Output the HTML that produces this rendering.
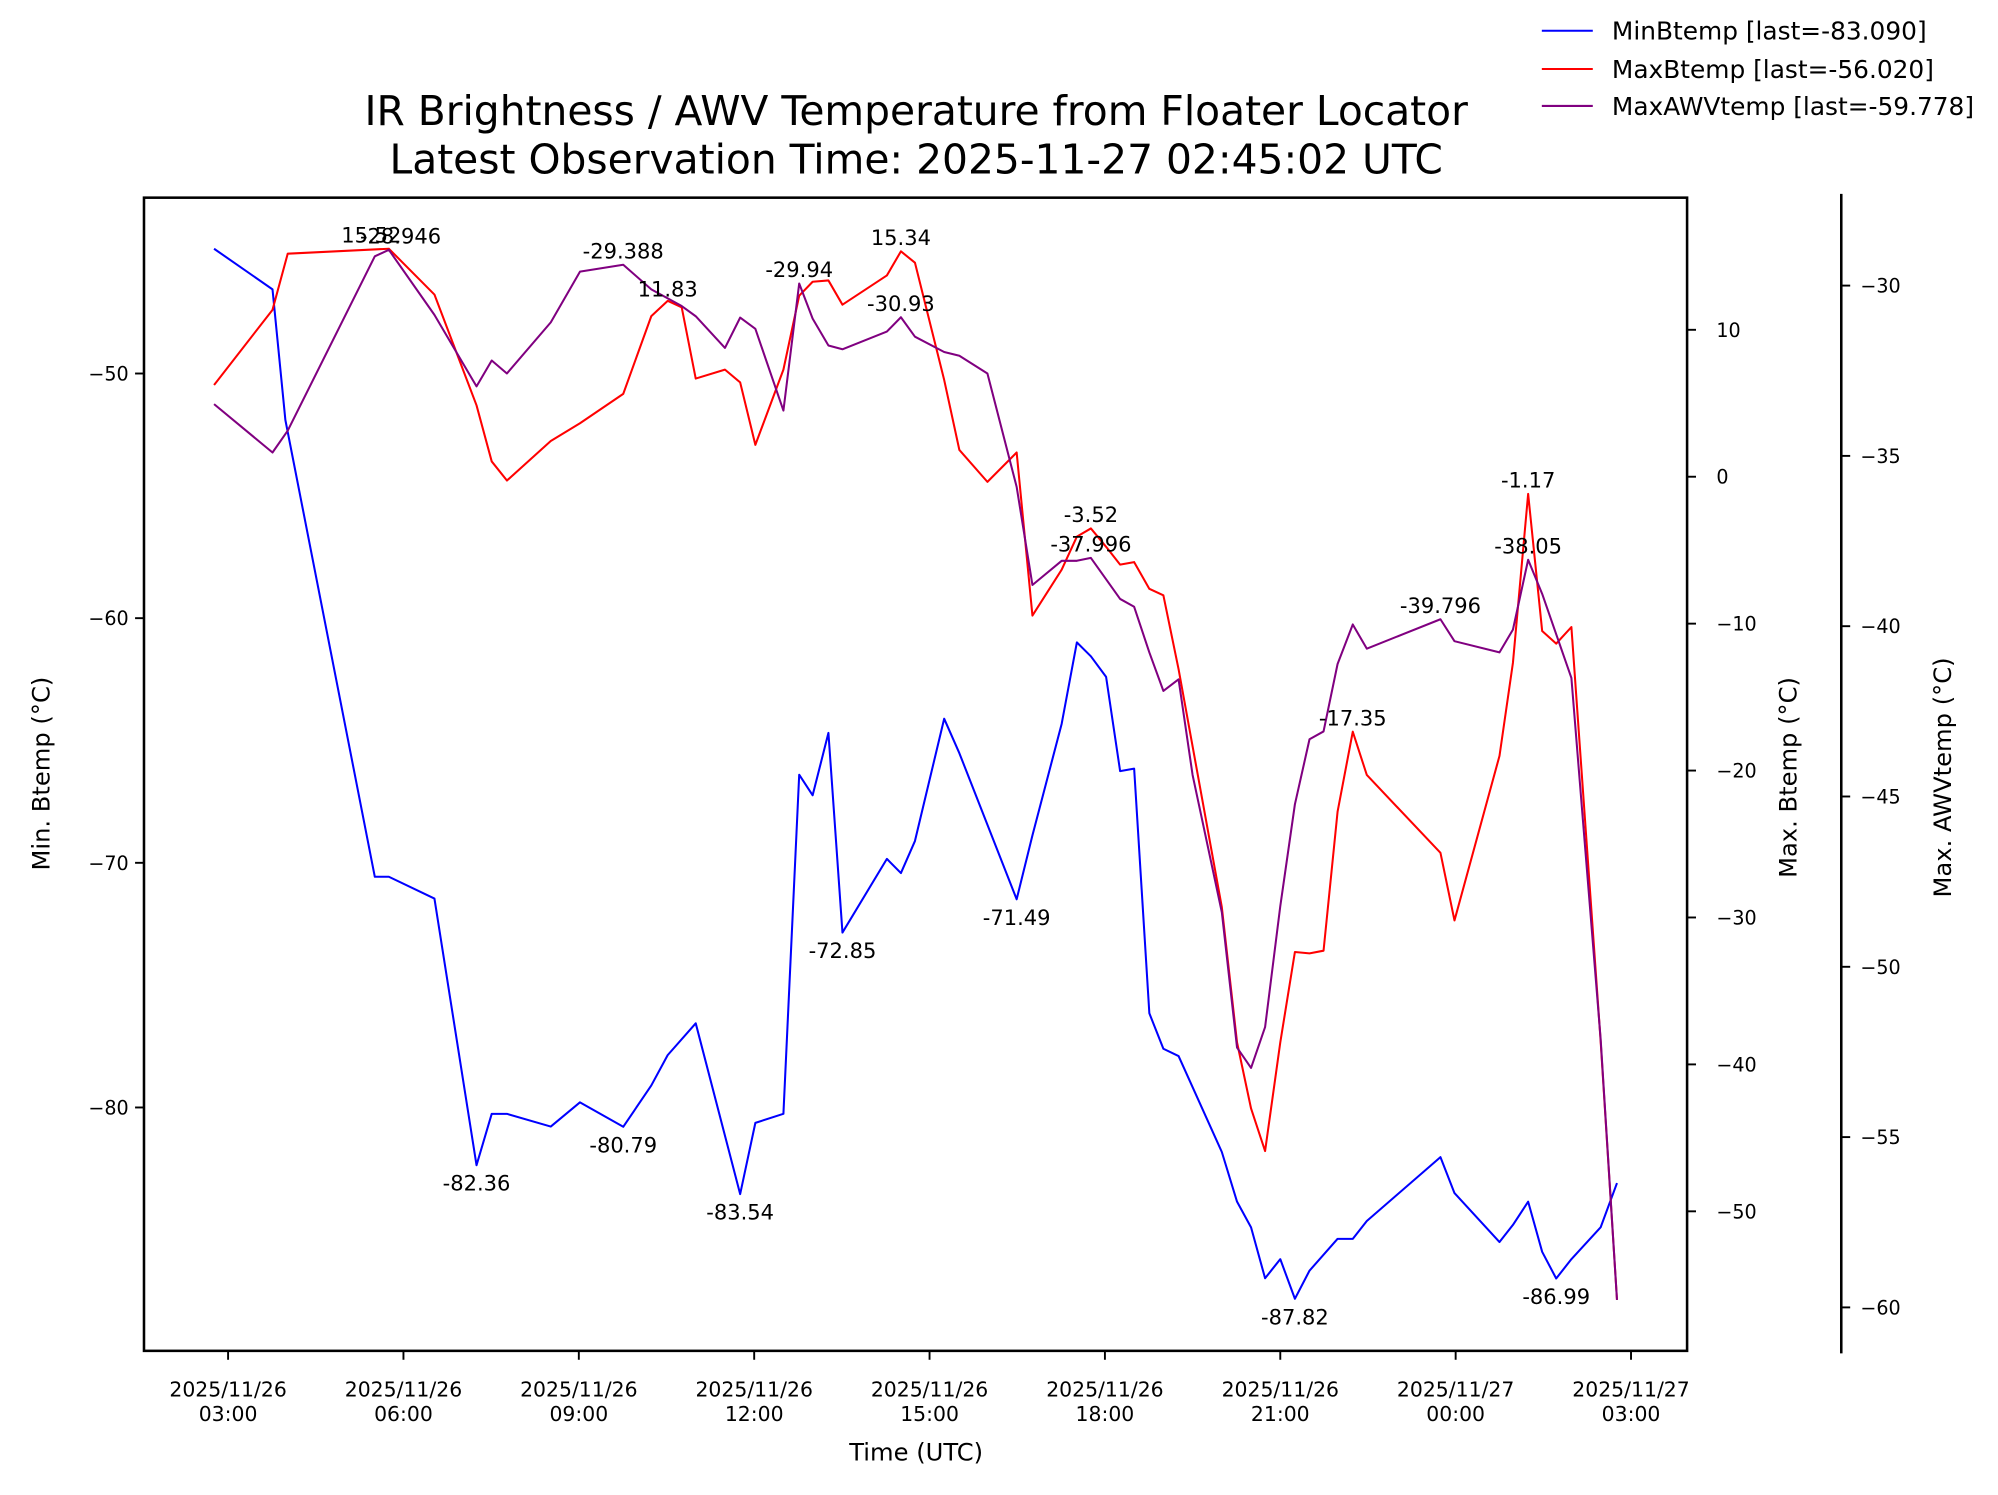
<!DOCTYPE html>
<html><head><meta charset="utf-8"><style>body{margin:0;background:#fff}svg{display:block}text{font-family:"DejaVu Sans","Liberation Sans",sans-serif}</style></head>
<body>
<svg id="c" width="1998" height="1495" viewBox="0 0 1568 1173" xmlns="http://www.w3.org/2000/svg"></svg>
<script>
const minHours=[2.76,3.76,3.98,5.51,5.75,6.53,7.25,7.51,7.77,8.52,9.02,9.76,10.24,10.52,11.0,11.76,12.02,12.5,12.77,13.0,13.27,13.51,14.27,14.51,14.75,15.25,15.51,16.49,16.76,17.26,17.52,17.76,18.02,18.26,18.5,18.76,19.0,19.26,20.0,20.26,20.5,20.74,21.0,21.25,21.5,21.98,22.24,22.48,23.74,23.98,24.75,24.98,25.24,25.48,25.72,25.98,26.48,26.76];
const minVals=[-44.9,-46.56,-51.9,-70.57,-70.57,-71.46,-82.36,-80.26,-80.26,-80.78,-79.79,-80.79,-79.1,-77.86,-76.56,-83.54,-80.63,-80.26,-66.4,-67.24,-64.69,-72.85,-69.84,-70.42,-69.11,-64.11,-65.52,-71.49,-68.88,-64.32,-60.99,-61.56,-62.4,-66.25,-66.15,-76.15,-77.6,-77.9,-81.82,-83.85,-84.9,-86.98,-86.2,-87.82,-86.67,-85.37,-85.37,-84.64,-82.03,-83.5,-85.5,-84.8,-83.85,-85.9,-86.99,-86.2,-84.9,-83.09];
const maxHours=[2.76,3.76,4.02,5.75,6.53,7.25,7.51,7.77,8.52,9.02,9.76,10.24,10.52,10.76,11.0,11.5,11.76,12.02,12.5,12.77,13.0,13.27,13.51,14.27,14.51,14.75,15.25,15.51,15.99,16.49,16.76,17.26,17.52,17.76,18.02,18.26,18.5,18.76,19.0,19.26,20.0,20.26,20.5,20.74,21.0,21.25,21.5,21.74,21.98,22.24,22.48,23.74,23.98,24.75,24.98,25.24,25.48,25.72,25.98,26.48,26.76];
const maxVals=[6.24,11.36,15.18,15.52,12.4,4.86,1.04,-0.26,2.43,3.64,5.64,10.93,11.97,11.53,6.68,7.29,6.42,2.17,7.29,12.32,13.27,13.36,11.71,13.7,15.34,14.57,6.59,1.82,-0.35,1.65,-9.45,-6.33,-4.08,-3.52,-4.77,-5.98,-5.81,-7.63,-8.07,-13.1,-29.3,-38.5,-43.0,-45.9,-38.5,-32.35,-32.44,-32.26,-22.8,-17.35,-20.3,-25.6,-30.2,-19.0,-12.66,-1.17,-10.5,-11.36,-10.23,-38.4,-56.02];
const awvHours=[2.76,3.76,4.02,5.51,5.75,6.53,7.25,7.51,7.77,8.52,9.02,9.76,10.24,10.76,11.0,11.5,11.76,12.02,12.5,12.77,13.0,13.27,13.51,14.27,14.51,14.75,15.25,15.51,15.99,16.49,16.76,17.26,17.52,17.76,18.26,18.5,18.76,19.0,19.26,19.5,20.0,20.26,20.5,20.74,21.0,21.25,21.5,21.74,21.98,22.24,22.48,23.74,23.98,24.75,24.98,25.24,25.48,25.98,26.48,26.76];
const awvVals=[-33.48,-34.9,-34.26,-29.14,-28.95,-30.86,-32.96,-32.2,-32.58,-31.08,-29.59,-29.388,-30.11,-30.6,-30.9,-31.83,-30.94,-31.27,-33.67,-29.94,-30.97,-31.76,-31.87,-31.35,-30.93,-31.5,-31.95,-32.06,-32.58,-35.91,-38.79,-38.08,-38.08,-37.996,-39.2,-39.43,-40.77,-41.9,-41.56,-44.37,-48.4,-52.37,-52.97,-51.77,-48.22,-45.23,-43.32,-43.09,-41.11,-39.95,-40.66,-39.796,-40.44,-40.77,-40.1,-38.05,-39.05,-41.52,-52.11,-59.78];
const minTicks=[-50,-60,-70,-80];
const maxTicks=[10,0,-10,-20,-30,-40,-50];
const awvTicks=[-30,-35,-40,-45,-50,-55,-60];
const timeTicks=[3,6,9,12,15,18,21,24,27];
const timeLabels=[["2025/11/26","03:00"],["2025/11/26","06:00"],["2025/11/26","09:00"],["2025/11/26","12:00"],["2025/11/26","15:00"],["2025/11/26","18:00"],["2025/11/26","21:00"],["2025/11/27","00:00"],["2025/11/27","03:00"]];
const minAnnH=[7.25,9.76,11.76,13.51,16.49,21.25,25.72];
const minAnnV=[-82.36,-80.79,-83.54,-72.85,-71.49,-87.82,-86.99];
const maxAnnH=[5.45,10.52,14.51,17.76,22.24,25.24];
const maxAnnV=[15.52,11.83,15.34,-3.52,-17.35,-1.17];
const awvAnnH=[5.95,9.76,12.77,14.51,17.76,23.74,25.24];
const awvAnnV=[-28.946,-29.388,-29.94,-30.93,-37.996,-39.796,-38.05];

const X=h=>179+(h-3)*45.875;
const Ymin=v=>293+(-50-v)*19.2;
const Ymax=v=>374-v*11.53;
const Yawv=v=>224+(-30-v)*26.73;
const svg=document.getElementById('c');
const NS='http://www.w3.org/2000/svg';
function mk(tag,attrs,parent){const e=document.createElementNS(NS,tag);for(const k in attrs)e.setAttribute(k,attrs[k]);(parent||svg).appendChild(e);return e;}
function txt(s,x,y,size,anchor,parent){const t=mk('text',{x:x,y:y,'font-size':size,'text-anchor':anchor||'middle',fill:'#000'},parent);t.textContent=s;return t;}

let t1=txt('IR Brightness / AWV Temperature from Floater Locator',719,98,32);


let t2=txt('Latest Observation Time: 2025-11-27 02:45:02 UTC',719,136,32);



function series(hs,vs,yf,color,name){
  const p=mk('polyline',{points:hs.map((h,i)=>X(h)+','+yf(vs[i])).join(' '),fill:'none',stroke:color,'stroke-width':1.6,'stroke-linejoin':'round'});
  
  
}
series(minHours,minVals,Ymin,'#0000ff','min-btemp-line');
series(maxHours,maxVals,Ymax,'#ff0000','max-btemp-line');
series(awvHours,awvVals,Yawv,'#800080','max-awvtemp-line');

function ann(hs,vs,yf,below,fmt,name){
  hs.forEach((h,i)=>{const a=txt(fmt(vs[i]),X(h),yf(vs[i])+(below?20:-5),16.5);
  
  });
}
ann(minAnnH,minAnnV,Ymin,true,v=>v.toFixed(2),'min-btemp-annotation');
ann(maxAnnH,maxAnnV,Ymax,false,v=>v.toFixed(2),'max-btemp-annotation');
ann(awvAnnH,awvAnnV,Yawv,false,v=>(Math.round(v*1000)/1000).toString(),'max-awvtemp-annotation');

const fr=mk('rect',{x:113,y:155,width:1211,height:905,fill:'none',stroke:'#000','stroke-width':2});


const sp=mk('line',{x1:1445,y1:152,x2:1445,y2:1062,stroke:'#000','stroke-width':2});



minTicks.forEach(v=>{const y=Ymin(v);mk('line',{x1:106,y1:y,x2:113,y2:y,stroke:'#000','stroke-width':1.5});
  const l=txt('\u2212'+Math.abs(v),101,y+5.5,15,'end');
  
  });
maxTicks.forEach(v=>{const y=Ymax(v);mk('line',{x1:1324,y1:y,x2:1331,y2:y,stroke:'#000','stroke-width':1.5});
  const l=txt(v<0?'\u2212'+Math.abs(v):String(v),1347,y+5.5,15,'start');
  
  });
awvTicks.forEach(v=>{const y=Yawv(v);mk('line',{x1:1445,y1:y,x2:1452,y2:y,stroke:'#000','stroke-width':1.5});
  const l=txt('\u2212'+Math.abs(v),1460,y+5.5,15,'start');
  
  });
timeTicks.forEach((h,i)=>{const x=X(h);mk('line',{x1:x,y1:1060,x2:x,y2:1067,stroke:'#000','stroke-width':1.5});
  const a=txt(timeLabels[i][0],x,1096,16);
  
  
  const b=txt(timeLabels[i][1],x,1115,16);
  
  });

function rot(s,x,y,name){const t=txt(s,x,y,19);t.setAttribute('transform','rotate(-90 '+x+' '+y+')');
  
  }
rot('Min. Btemp (°C)',39,607,'y-axis-title-min');
rot('Max. Btemp (°C)',1410,610,'y-axis-title-max');
rot('Max. AWVtemp (°C)',1531,610,'y-axis-title-awv');
const xt=txt('Time (UTC)',719,1146,19);



[['#0000ff','MinBtemp [last=-83.090]',24],['#ff0000','MaxBtemp [last=-56.020]',54],['#800080','MaxAWVtemp [last=-59.778]',83]].forEach(e=>{
  const g=mk('g',{});
  
  
  mk('line',{x1:1210,y1:e[2],x2:1250,y2:e[2],stroke:e[0],'stroke-width':1.6},g);
  txt(e[1],1265,e[2]+7,19.5,'start',g);
});
</script>
</body></html>
